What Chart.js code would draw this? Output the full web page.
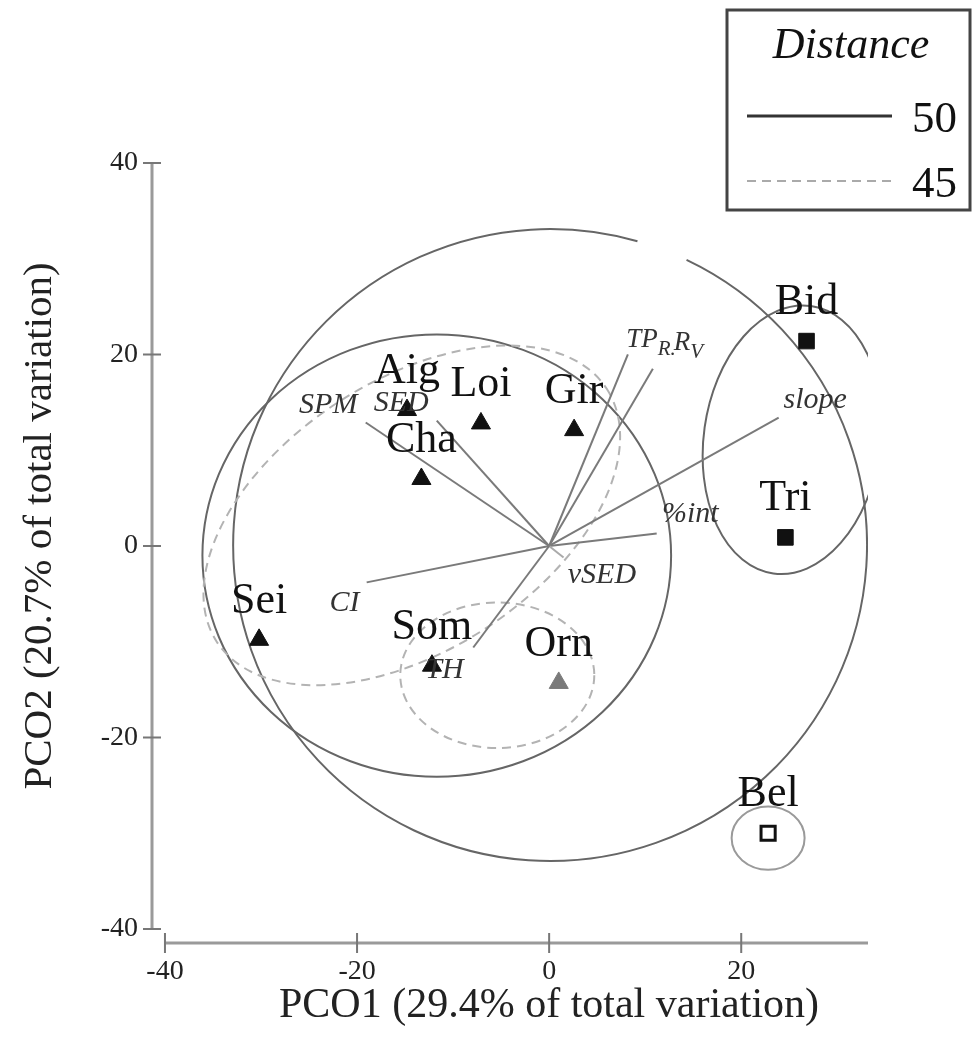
<!DOCTYPE html>
<html>
<head>
<meta charset="utf-8">
<script src="https://cdn.jsdelivr.net/npm/chart.js@4.4.1/dist/chart.umd.min.js"></script>
<style>
    html, body { margin: 0; padding: 0; background: #fff; }
    #wrap { width: 972px; height: 1037px; }
</style>
</head>
<body>
<div id="wrap"><canvas id="pco" width="972" height="1037"></canvas></div>
<script>
// ---------- sites ----------
const siteNames = ['Aig', 'Loi', 'Gir', 'Cha', 'Sei', 'Som', 'Orn', 'Bid', 'Tri', 'Bel'];
const siteX = [-14.8, -7.1, 2.6, -13.3, -30.2, -12.2, 1.0, 26.8, 24.6, 22.8];
const siteY = [14.2, 12.8, 12.1, 7.0, -9.8, -12.5, -14.3, 21.4, 0.9, -30.0];
const siteGroup = ['tri', 'tri', 'tri', 'tri', 'tri', 'tri', 'triGrey', 'sq', 'sq', 'sqOpen'];

// ---------- environmental vectors ----------
const varNames = ['SPM', 'SED', 'CI', 'TH', 'vSED', '%int', 'slope', 'TP', 'R'];
const varSubs = ['', '', '', '', '', '', '', 'R.', 'V'];
const varX = [-19.1, -11.7, -19.0, -7.9, 1.5, 11.2, 23.9, 8.2, 10.8];
const varY = [12.9, 13.1, -3.8, -10.6, -1.2, 1.3, 13.4, 20.0, 18.5];
const varLabelX = [-23.0, -15.4, -21.3, -10.9, 5.5, 14.7, 27.7, 10.6, 14.5];
const varLabelY = [14.9, 15.1, -5.7, -12.7, -2.8, 3.5, 15.5, 21.8, 21.5];

// ---------- distance clusters (centre, radii, tilt in degrees) ----------
const clusterLevel = [50, 50, 50, 50, 45, 45];
const clusterCx = [0.1, -11.7, 25.3, 22.8, -14.3, -5.4];
const clusterCy = [0.1, -1.0, 11.1, -30.5, 3.2, -13.5];
const clusterRx = [33.0, 24.4, 9.2, 3.8, 24.2, 10.1];
const clusterRy = [33.0, 23.1, 14.1, 3.3, 14.1, 7.6];
const clusterAngle = [0, 0, -8, 0, 33, 0];

const xTicks = [-40, -20, 0, 20];
const yTicks = [-40, -20, 0, 20, 40];
const distLevels = [50, 45];

const FONT = '"Liberation Serif", "Times New Roman", serif';
Chart.defaults.font.family = FONT;

const groupStyle = {
    tri:     { style: 'triangle', r: 11, fill: '#111', line: '#111', bw: 1 },
    triGrey: { style: 'triangle', r: 11, fill: '#7a7a7a', line: '#7a7a7a', bw: 1 },
    sq:      { style: 'rect', r: 11, fill: '#111', line: '#111', bw: 1 },
    sqOpen:  { style: 'rect', r: 10, fill: '#fff', line: '#111', bw: 3 }
};
// small break in the big circle (screen angles, degrees)
const gapArc = { 0: [-74, -64.5] };

const clusterPlugin = {
    id: 'clusters',
    beforeDatasetsDraw(chart) {
        const { ctx, chartArea: a, scales: { x, y } } = chart;
        ctx.save();
        ctx.beginPath();
        ctx.rect(a.left, a.top, a.right - a.left, a.bottom - a.top);
        ctx.clip();
        clusterLevel.forEach((lev, i) => {
            const px = x.getPixelForValue(clusterCx[i]);
            const py = y.getPixelForValue(clusterCy[i]);
            const rx = Math.abs(x.getPixelForValue(clusterCx[i] + clusterRx[i]) - px);
            const ry = Math.abs(y.getPixelForValue(clusterCy[i] + clusterRy[i]) - py);
            const gap = gapArc[i];
            const start = gap ? gap[1] * Math.PI / 180 : 0;
            const end = gap ? (gap[0] + 360) * Math.PI / 180 : Math.PI * 2;
            ctx.beginPath();
            ctx.ellipse(px, py, rx, ry, -clusterAngle[i] * Math.PI / 180, start, end);
            ctx.setLineDash(lev === 50 ? [] : [9, 6]);
            ctx.strokeStyle = lev === 50 ? (i === 3 ? '#9a9a9a' : '#666') : '#b3b3b3';
            ctx.lineWidth = 2;
            ctx.stroke();
        });
        ctx.restore();
    }
};

const labelPlugin = {
    id: 'labels',
    afterDatasetsDraw(chart) {
        const { ctx, scales: { x, y } } = chart;
        ctx.save();
        // site names
        ctx.font = '44px ' + FONT;
        ctx.fillStyle = '#111';
        ctx.textAlign = 'center';
        ctx.textBaseline = 'alphabetic';
        siteNames.forEach((name, i) => {
            ctx.fillText(name, x.getPixelForValue(siteX[i]), y.getPixelForValue(siteY[i]) - 27);
        });
        // variable names (italic, optional subscript)
        ctx.fillStyle = '#333';
        ctx.textAlign = 'left';
        varNames.forEach((name, i) => {
            const lx = x.getPixelForValue(varLabelX[i]);
            const ly = y.getPixelForValue(varLabelY[i]);
            const main = varSubs[i] ? 'italic 27px ' + FONT : 'italic 30px ' + FONT;
            const sub = 'italic 21px ' + FONT;
            ctx.font = main;
            const w1 = ctx.measureText(name).width;
            ctx.font = sub;
            const w2 = varSubs[i] ? ctx.measureText(varSubs[i]).width : 0;
            const x0 = lx - (w1 + w2) / 2;
            ctx.font = main;
            ctx.fillText(name, x0, ly + 10);
            if (varSubs[i]) {
                ctx.font = sub;
                ctx.fillText(varSubs[i], x0 + w1, ly + 18);
            }
        });
        ctx.restore();
    }
};

const framePlugin = {
    id: 'frame',
    afterDraw(chart) {
        const { ctx, chartArea: a, scales: { x, y } } = chart;
        ctx.save();
        // axis lines
        ctx.strokeStyle = '#9a9a9a';
        ctx.lineWidth = 3;
        ctx.beginPath();
        ctx.moveTo(a.left, y.getPixelForValue(yTicks[yTicks.length - 1]));
        ctx.lineTo(a.left, y.getPixelForValue(yTicks[0]));
        ctx.moveTo(x.getPixelForValue(xTicks[0]), a.bottom);
        ctx.lineTo(a.right, a.bottom);
        ctx.stroke();
        // tick marks crossing the axes
        ctx.strokeStyle = '#777';
        ctx.lineWidth = 2;
        ctx.beginPath();
        yTicks.forEach(v => {
            const p = y.getPixelForValue(v);
            ctx.moveTo(a.left - 9, p);
            ctx.lineTo(a.left + 9, p);
        });
        xTicks.forEach(v => {
            const p = x.getPixelForValue(v);
            ctx.moveTo(p, a.bottom - 10);
            ctx.lineTo(p, a.bottom + 10);
        });
        ctx.stroke();

        // axis titles
        ctx.fillStyle = '#222';
        ctx.textAlign = 'center';
        ctx.textBaseline = 'alphabetic';
        ctx.font = '42px ' + FONT;
        ctx.fillText('PCO1 (29.4% of total variation)', 549, 1017);
        ctx.save();
        ctx.font = '41px ' + FONT;
        ctx.translate(51, 526);
        ctx.rotate(-Math.PI / 2);
        ctx.fillText('PCO2 (20.7% of total variation)', 0, 0);
        ctx.restore();

        // legend box
        ctx.strokeStyle = '#444';
        ctx.lineWidth = 3;
        ctx.strokeRect(727, 10, 243, 200);
        ctx.fillStyle = '#111';
        ctx.font = 'italic 44px ' + FONT;
        ctx.fillText('Distance', 851, 58);
        ctx.font = '45px ' + FONT;
        ctx.textAlign = 'left';
        distLevels.forEach((lev, i) => {
            const ly = 116 + i * 65;
            ctx.beginPath();
            ctx.moveTo(747, ly);
            ctx.lineTo(892, ly);
            ctx.setLineDash(lev === 50 ? [] : [9, 6]);
            ctx.strokeStyle = lev === 50 ? '#333' : '#aaa';
            ctx.lineWidth = lev === 50 ? 3 : 2;
            ctx.stroke();
            ctx.setLineDash([]);
            ctx.fillText(String(lev), 912, ly + 16);
        });
        ctx.restore();
    }
};

const siteData = siteX.map((v, i) => ({ x: v, y: siteY[i] }));
const vectorSets = varNames.map((name, i) => ({
    label: name,
    data: [{ x: 0, y: 0 }, { x: varX[i], y: varY[i] }],
    showLine: true,
    pointRadius: 0,
    borderColor: name === 'vSED' ? '#aaa' : '#7a7a7a',
    borderWidth: 2
}));

new Chart(document.getElementById('pco'), {
    type: 'scatter',
    data: {
        datasets: [{
            label: 'sites',
            data: siteData,
            pointStyle: siteGroup.map(g => groupStyle[g].style),
            pointRadius: siteGroup.map(g => groupStyle[g].r),
            backgroundColor: siteGroup.map(g => groupStyle[g].fill),
            borderColor: siteGroup.map(g => groupStyle[g].line),
            borderWidth: siteGroup.map(g => groupStyle[g].bw)
        }, ...vectorSets]
    },
    options: {
        responsive: false,
        animation: false,
        events: [],
        layout: { padding: { left: 0, right: 104, top: 153.4, bottom: 0 } },
        plugins: { legend: { display: false }, tooltip: { enabled: false } },
        scales: {
            x: {
                type: 'linear',
                min: -41.35,
                max: 33.2,
                grid: { display: false, drawTicks: false },
                border: { display: false },
                afterBuildTicks: s => { s.ticks = xTicks.map(v => ({ value: v })); },
                afterFit: s => { s.height = 94; },
                ticks: { color: '#222', font: { size: 28 }, padding: 12 }
            },
            y: {
                type: 'linear',
                min: -41.46,
                max: 41.0,
                grid: { display: false, drawTicks: false },
                border: { display: false },
                afterBuildTicks: s => { s.ticks = yTicks.map(v => ({ value: v })); },
                afterFit: s => { s.width = 152; },
                ticks: { color: '#222', font: { size: 28 }, padding: 14 }
            }
        }
    },
    plugins: [clusterPlugin, labelPlugin, framePlugin]
});
</script>
</body>
</html>
